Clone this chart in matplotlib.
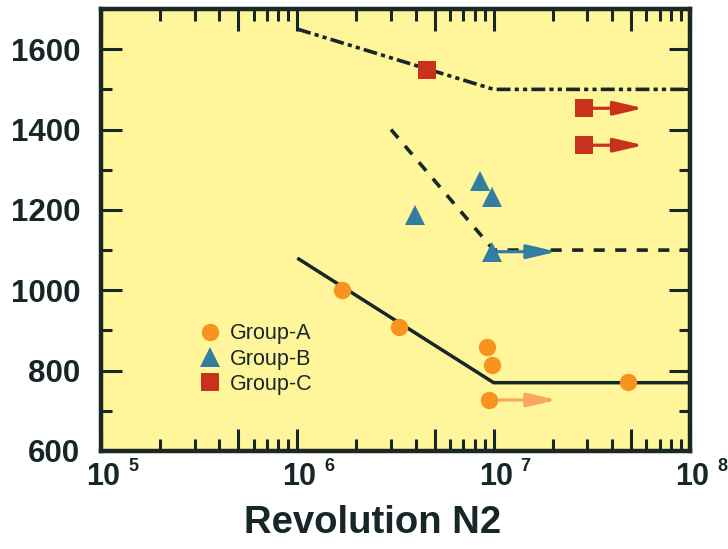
import matplotlib
matplotlib.use("Agg")
import matplotlib.pyplot as plt
from matplotlib.ticker import FixedLocator, NullFormatter
from matplotlib.lines import Line2D

# измеренные точки (число оборотов N, напряжение)
group_a_n = [1.69e6, 3.3e6, 9.2e6, 9.8e6, 9.5e6, 4.85e7]
group_a_s = [1000, 908, 859, 814, 727, 772]
group_b_n = [3.97e6, 8.5e6, 9.8e6, 9.8e6]
group_b_s = [1188, 1273, 1231, 1096]
group_c_n = [4.57e6, 2.9e7, 2.9e7]
group_c_s = [1548, 1453, 1361]

# образцы без разрушения: начало и конец стрелки
runout_a_n = [9.5e6]
runout_a_s = [727]
runout_a_end = [2.1e7]
runout_b_n = [9.8e6]
runout_b_s = [1096]
runout_b_end = [2.1e7]
runout_c_n = [2.9e7, 2.9e7]
runout_c_s = [1453, 1361]
runout_c_end = [5.8e7, 5.8e7]

# кривые усталости
curve_a_n = [1e6, 1e7, 1e8]
curve_a_s = [1080, 770, 770]
curve_b_n = [3e6, 1e7, 1e8]
curve_b_s = [1400, 1100, 1100]
curve_c_n = [1e6, 1e7, 1e8]
curve_c_s = [1650, 1500, 1500]

decades = [5, 6, 7, 8]
y_labels = [600, 800, 1000, 1200, 1400, 1600]

ink = "#172727"
col_a = "#F7931E"
col_a_arrow = "#F9A95E"
col_b = "#347DA2"
col_c = "#C8321C"

plt.rcParams["font.family"] = ["Liberation Sans", "DejaVu Sans"]
plt.rcParams["lines.scale_dashes"] = False

fig = plt.figure(figsize=(7.28, 5.49), dpi=100)
ax = fig.add_axes([101 / 728, 1 - 451 / 549, 589 / 728, 442 / 549])
ax.set_facecolor("#FFF59B")

ax.plot(curve_a_n, curve_a_s, color=ink, lw=2.5, solid_capstyle="butt", zorder=2)
ax.plot(curve_b_n, curve_b_s, color=ink, lw=2.6, linestyle=(0, (8, 7.5)), zorder=2)
ax.plot(curve_c_n, curve_c_s, color=ink, lw=2.6,
        linestyle=(0, (10, 3, 3, 3, 3, 3)), zorder=2)


def arrows(xs, ys, ends, color):
    for x0, y0, x1 in zip(xs, ys, ends):
        ax.annotate("", xy=(x1, y0), xytext=(x0, y0),
                    arrowprops=dict(arrowstyle="-|>,head_length=1.8,head_width=0.42",
                                    color=color, lw=2.3, shrinkA=0, shrinkB=0),
                    zorder=3)


arrows(runout_a_n, runout_a_s, runout_a_end, col_a_arrow)
arrows(runout_b_n, runout_b_s, runout_b_end, col_b)
arrows(runout_c_n, runout_c_s, runout_c_end, col_c)

ax.plot(group_a_n, group_a_s, "o", color=col_a, ms=12.5, mew=0, zorder=4)
ax.plot(group_b_n, group_b_s, "^", color=col_b, ms=15, mew=0, zorder=4)
ax.plot(group_c_n, group_c_s, "s", color=col_c, ms=12.5, mew=0, zorder=4)

ax.set_xscale("log")
ax.set_xlim(1e5, 1e8)
ax.set_ylim(600, 1700)

major_x = [m * 10 ** d for d in range(5, 8) for m in (1, 5)] + [1e8]
minor_x = [m * 10 ** d for d in range(5, 8) for m in (2, 3, 4, 6, 7, 8, 9)]
ax.xaxis.set_major_locator(FixedLocator(major_x))
ax.xaxis.set_minor_locator(FixedLocator(minor_x))
ax.xaxis.set_major_formatter(NullFormatter())
ax.xaxis.set_minor_formatter(NullFormatter())
ax.yaxis.set_major_locator(FixedLocator(y_labels))
ax.yaxis.set_minor_locator(FixedLocator([700, 900, 1100, 1300, 1500, 1700]))

for side in ax.spines.values():
    side.set_linewidth(3.2)
    side.set_color("#1c2828")

ax.tick_params(which="both", direction="in", top=True, right=True, color=ink, width=2.2)
ax.tick_params(axis="x", which="major", length=16)
ax.tick_params(axis="x", which="minor", length=8.5)
ax.tick_params(axis="y", which="major", length=15, pad=15)
ax.tick_params(axis="y", which="minor", length=8)
ax.set_yticklabels([str(v) for v in y_labels], fontsize=22.5, fontweight="bold", color=ink)

for d in decades:
    ax.annotate("10", xy=(10 ** d, 0), xycoords=("data", "axes fraction"),
                xytext=(1.5, -18.5), textcoords="offset points",
                ha="center", va="center", fontsize=22, fontweight="bold", color=ink,
                annotation_clip=False)
    ax.annotate(str(d), xy=(10 ** d, 0), xycoords=("data", "axes fraction"),
                xytext=(23, -11.5), textcoords="offset points",
                ha="center", va="center", fontsize=13, fontweight="bold", color=ink,
                annotation_clip=False)

ax.text((373 - 101) / 589, (451 - 523) / 442, "Revolution N2", transform=ax.transAxes,
        ha="center", va="center", fontsize=27.5, fontweight="bold", color=ink)

handles = [
    Line2D([], [], marker="o", ls="", color=col_a, ms=12.5, mew=0),
    Line2D([], [], marker="^", ls="", color=col_b, ms=15, mew=0),
    Line2D([], [], marker="s", ls="", color=col_c, ms=12.5, mew=0),
]
leg = ax.legend(handles, ["Group-A", "Group-B", "Group-C"], loc="upper left",
                bbox_to_anchor=(0.167, 0.289), frameon=False, fontsize=15.5,
                handlelength=1.0, handletextpad=0.4, labelspacing=0.2,
                borderpad=0, borderaxespad=0)
for t in leg.get_texts():
    t.set_color(ink)

fig.savefig("out.png", dpi=100)
